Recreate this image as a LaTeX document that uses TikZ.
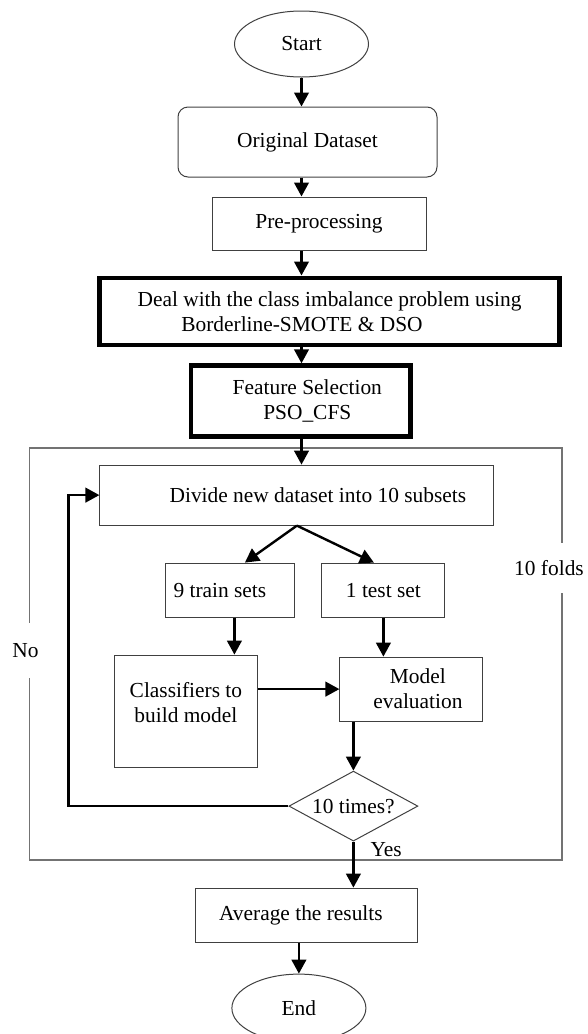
\documentclass[tikz,border=0pt]{standalone}
\usepackage{fontspec}
\setmainfont{Liberation Serif}
\usetikzlibrary{shapes.geometric, arrows.meta, positioning}

\begin{document}
\begin{tikzpicture}[
    x=1pt, y=-1pt,
    font=\fontsize{10.7}{12.5}\selectfont,
    terminal/.style={draw=black!75, line width=0.5pt, ellipse, minimum width=67pt, minimum height=33pt, inner sep=0pt},
    rbox/.style={draw=black!75, line width=0.5pt, rectangle, rounded corners=5pt, align=center},
    box/.style={draw=black!75, line width=0.5pt, rectangle, align=center},
    bold/.style={draw, line width=2.4pt, rectangle, align=center},
    decision/.style={draw=black!75, line width=0.5pt, diamond, aspect=1.85, minimum width=64.5pt, minimum height=35pt, inner sep=0pt},
    frame/.style={draw=black!55, line width=0.6pt},
    label/.style={fill=white, inner xsep=1pt},
    arrow/.style={-{Triangle[length=7pt, width=7.3pt]}, line width=1.2pt}
]
\useasboundingbox (0,0) rectangle (294,517);

% Start and preparation
\node[terminal] (start) at (150.75,22) {Start};
\node[rbox, minimum width=129.5pt, minimum height=35pt, below=14.5pt of start, xshift=3pt] (orig) {Original Dataset};
\node[box, minimum width=107pt, minimum height=26.5pt, below=9.5pt of orig, xshift=5.75pt] (prep) {Pre-processing};
\node[bold, minimum width=230pt, minimum height=33.5pt, below=12.5pt of prep, xshift=5.25pt] (smote)
    {Deal with the class imbalance problem using\\Borderline-SMOTE \& DSO\hspace*{27.5pt}};
\node[bold, minimum width=109.75pt, minimum height=35.5pt, below=8pt of smote, xshift=-14.4pt] (fs)
    {\hspace*{6.6pt}Feature Selection\\\hspace*{6.6pt}PSO\_CFS};

% Cross validation frame
\draw[frame] (14.7,224) rectangle (281,430);
\node[label, minimum height=27.5pt] (no) at (12.75,325.25) {No};
\node[label, minimum height=25pt] (folds) at (274.5,284) {10 folds};

\node[box, minimum width=197pt, minimum height=30pt, below=12.75pt of fs, xshift=-1.9pt] (divide)
    {\hspace*{21pt}Divide new dataset into 10 subsets};
\node[box, minimum width=64.5pt, minimum height=27pt, below=18.5pt of divide, xshift=-33.25pt] (train)
    {9 train sets\hspace*{10.5pt}};
\node[box, minimum width=61.5pt, minimum height=27pt, right=13pt of train] (test) {1 test set};
\node[box, minimum width=71.75pt, minimum height=56pt, text depth=9pt, below=18.5pt of train, xshift=-22.25pt] (clf)
    {Classifiers to\\build model};
\node[box, minimum width=71.5pt, minimum height=32pt, below=19.5pt of test, xshift=14pt] (eval)
    {\hspace*{6.5pt}Model\\\hspace*{6.5pt}evaluation};
\node[decision, below=24.5pt of eval, xshift=-29pt] (check) {10 times?};

% Result
\node[box, minimum width=110.75pt, minimum height=27pt, below=23pt of check, xshift=-23.4pt] (avg)
    {Average the results\hspace*{5.7pt}};
\node[terminal, minimum height=34pt, below=15.5pt of avg, xshift=-3.85pt] (fin) {End};

% Arrows
\draw[arrow] (start.south) -- (start.south |- orig.north);
\draw[arrow] (orig.south -| start) -- (prep.north -| start);
\draw[arrow] (prep.south -| start) -- (smote.north -| start);
\draw[arrow] (smote.south -| start) -- (fs.north -| start);
\draw[arrow] (fs.south -| start) -- (divide.north -| start);

\draw[arrow] (divide.south) -- ([xshift=7.25pt]train.north);
\draw[arrow] (divide.south) -- ([xshift=-4.75pt]test.north);
\draw[arrow] ([xshift=2pt]train.south) -- ([xshift=2pt]train.south |- clf.north);
\draw[arrow] (test.south) -- (test.south |- eval.north);
\draw[arrow] (clf.east |- eval.west) -- (eval.west);
\draw[arrow] (check.north |- eval.south) -- (check.north);

\draw[arrow] (check.west) -| ([xshift=-15.5pt]divide.west) -- (divide.west);
\draw[arrow] (check.south) -- (check.south |- avg.north) node[pos=0.17, right=8pt, inner sep=0pt] {Yes};
\draw[arrow] (fin.north |- avg.south) -- (fin.north);

\end{tikzpicture}
\end{document}
